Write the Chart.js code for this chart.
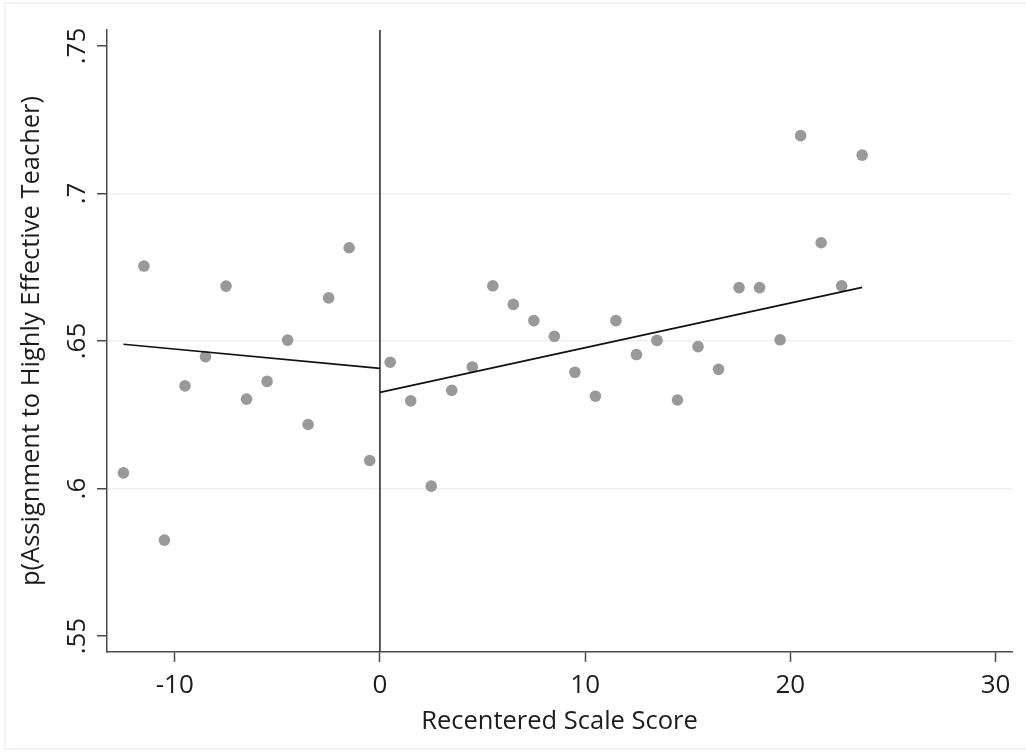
<!DOCTYPE html>
<html>
<head>
<meta charset="utf-8">
<script src="https://cdn.jsdelivr.net/npm/chart.js@4"></script>
<style>
    html, body { margin: 0; padding: 0; background: #ffffff; }
    #wrap { position: relative; width: 1026px; height: 753px; overflow: hidden; }
    #frame {
        position: absolute; left: 4px; top: 2px; width: 1040px; height: 748px;
        border: 2px solid #edf2f4; box-sizing: border-box;
    }
    #chart { position: absolute; left: 0; top: 0; }
</style>
</head>
<body>
<div id="wrap">
    <div id="frame"></div>
    <canvas id="chart" width="1026" height="753"></canvas>
</div>
<script>
// bin means of the running variable (score relative to cutoff)
const binCenters = [-12.5, -11.5, -10.5, -9.5, -8.5, -7.5, -6.5, -5.5, -4.5, -3.5, -2.5, -1.5, -0.5,
    0.5, 1.5, 2.5, 3.5, 4.5, 5.5, 6.5, 7.5, 8.5, 9.5, 10.5, 11.5, 12.5, 13.5, 14.5, 15.5, 16.5,
    17.5, 18.5, 19.5, 20.5, 21.5, 22.5, 23.5];
const shareHighlyEffective = [0.6053, 0.6754, 0.5825, 0.6348, 0.6447, 0.6686, 0.6303, 0.6363, 0.6503, 0.6217, 0.6646, 0.6816, 0.6095,
    0.6428, 0.6297, 0.6008, 0.6333, 0.6412, 0.6687, 0.6624, 0.6569, 0.6516, 0.6394, 0.6313, 0.6569, 0.6454, 0.6502, 0.6300, 0.6481, 0.6404,
    0.6681, 0.6681, 0.6504, 0.7196, 0.6833, 0.6687, 0.7130];

// linear fits either side of the cutoff
const leftFitX = [-12.5, 0];
const leftFitY = [0.6489, 0.6407];
const rightFitX = [0, 23.5];
const rightFitY = [0.6326, 0.6682];

const xTicks = [-10, 0, 10, 20, 30];
const yTicks = [0.55, 0.6, 0.65, 0.7, 0.75];
const yTickLabels = ['.55', '.6', '.65', '.7', '.75'];

const xMin = -13.3, xMax = 30.8;
const yMin = 0.5446, yMax = 0.7554;

const cutoffX = [0, 0];
const cutoffY = [yMin, yMax];

const toPoints = (xs, ys) => xs.map((x, i) => ({ x: x, y: ys[i] }));

const axisColor = '#4a4a4a';
const textColor = '#1c1c1c';
const fontFamily = "'Open Sans', sans-serif";

// y tick labels in Stata are turned sideways
const rotatedYLabels = {
    id: 'rotatedYLabels',
    afterDraw(chart) {
        const ctx = chart.ctx;
        const y = chart.scales.y;
        ctx.save();
        ctx.fillStyle = textColor;
        ctx.font = '26px ' + fontFamily;
        ctx.textAlign = 'center';
        ctx.textBaseline = 'alphabetic';
        yTicks.forEach((v, i) => {
            const py = y.getPixelForValue(v);
            ctx.save();
            ctx.translate(85, py);
            ctx.rotate(-Math.PI / 2);
            ctx.fillText(yTickLabels[i], 0, 0);
            ctx.restore();
        });
        ctx.restore();
    }
};

new Chart(document.getElementById('chart').getContext('2d'), {
    type: 'scatter',
    data: {
        datasets: [
            {
                label: 'Left fit',
                type: 'line',
                data: toPoints(leftFitX, leftFitY),
                borderColor: '#111111',
                borderWidth: 1.7,
                pointRadius: 0,
                fill: false
            },
            {
                label: 'Right fit',
                type: 'line',
                data: toPoints(rightFitX, rightFitY),
                borderColor: '#111111',
                borderWidth: 1.7,
                pointRadius: 0,
                fill: false
            },
            {
                label: 'Cutoff',
                type: 'line',
                data: toPoints(cutoffX, cutoffY),
                borderColor: '#222222',
                borderWidth: 1.5,
                pointRadius: 0,
                fill: false
            },
            {
                label: 'Bin means',
                data: toPoints(binCenters, shareHighlyEffective),
                backgroundColor: '#999999',
                borderWidth: 0,
                pointRadius: 5.8
            }
        ]
    },
    options: {
        responsive: false,
        animation: false,
        events: [],
        layout: { padding: { left: 0, top: 30, right: 14, bottom: 0 } },
        plugins: {
            legend: { display: false },
            tooltip: { enabled: false }
        },
        scales: {
            x: {
                type: 'linear',
                min: xMin,
                max: xMax,
                afterBuildTicks: scale => { scale.ticks = xTicks.map(v => ({ value: v })); },
                afterFit: scale => { scale.height = 101; },
                grid: {
                    drawOnChartArea: false,
                    drawTicks: true,
                    tickLength: 10,
                    tickWidth: 1.5,
                    tickColor: axisColor
                },
                border: { display: true, color: axisColor, width: 1.5 },
                ticks: {
                    color: textColor,
                    font: { family: fontFamily, size: 26 },
                    padding: 8,
                    maxRotation: 0,
                    minRotation: 0
                },
                title: {
                    display: true,
                    text: 'Recentered Scale Score',
                    color: textColor,
                    font: { family: fontFamily, size: 25.5 },
                    padding: { top: 0, bottom: 16 }
                }
            },
            y: {
                type: 'linear',
                min: yMin,
                max: yMax,
                afterBuildTicks: scale => { scale.ticks = yTicks.map(v => ({ value: v })); },
                afterFit: scale => { scale.width = 107; },
                grid: {
                    color: ctx => {
                        const v = ctx.tick ? ctx.tick.value : null;
                        return (v === 0.55 || v === 0.75) ? 'rgba(0,0,0,0)' : '#e9f1f2';
                    },
                    lineWidth: 1.5,
                    drawTicks: true,
                    tickLength: 10,
                    tickWidth: 1.5,
                    tickColor: axisColor
                },
                border: { display: true, color: axisColor, width: 1.5 },
                ticks: {
                    display: false
                },
                title: {
                    display: true,
                    text: 'p(Assignment to Highly Effective Teacher)',
                    color: textColor,
                    font: { family: fontFamily, size: 25.5 },
                    padding: { top: 16, bottom: 0 }
                }
            }
        }
    },
    plugins: [rotatedYLabels]
});
</script>
</body>
</html>
